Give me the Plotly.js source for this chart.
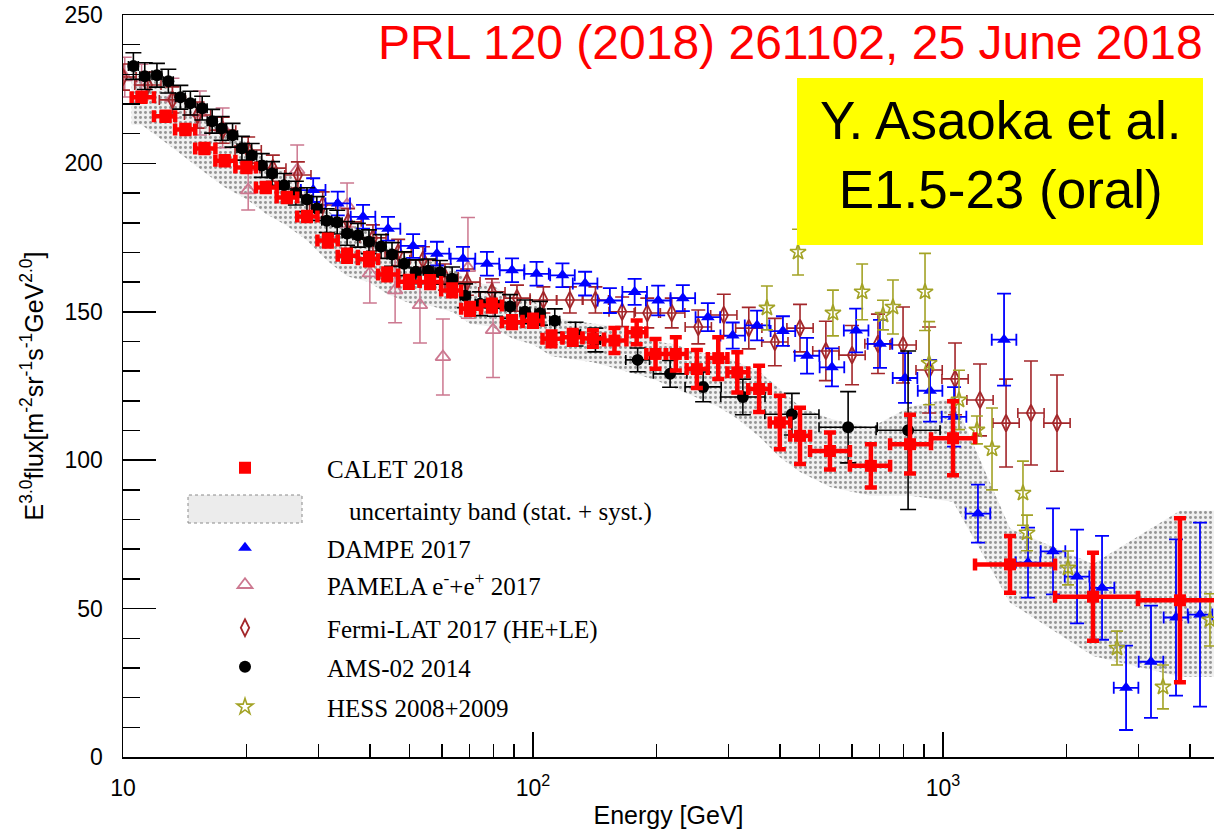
<!DOCTYPE html>
<html>
<head>
<meta charset="utf-8">
<script src="https://cdn.plot.ly/plotly-3.0.1.min.js"></script>
<style>
  html, body { margin: 0; padding: 0; background: #fff; overflow: hidden; }
  #chart { width: 1214px; height: 833px; }
</style>
</head>
<body>
<div id="chart"></div>
<script>
// ---- CALET 2018: total electron + positron spectrum, E^3 x flux ----
const calE = [11.1, 12.7, 14.2, 15.8, 17.7, 20.0, 22.3, 25.1, 28.1, 31.6, 35.2, 39.8, 44.1, 49.8, 56.1, 63.5, 70.2, 79.4, 88.9, 100,
              111, 125, 140, 158, 179, 199, 223, 251, 283, 315, 356, 400, 448, 530, 667, 831, 1058, 1457, 2322, 3784];
const calFlux = [222.3, 215.9, 211.4, 205.0, 200.9, 198.6, 191.9, 188.5, 182.1, 174.0, 168.9, 167.7, 162.6, 160.1, 160.0, 157.2, 151.0, 152.1, 146.5, 147.0,
                 140.9, 141.4, 141.0, 140.3, 143.1, 135.8, 135.8, 130.7, 134.4, 129.6, 124.0, 112.7, 108.2, 103.1, 98.1, 105.4, 107.4, 64.9, 54.0, 52.8];
const calErr = [1.5, 1.5, 1.5, 1.5, 1.5, 1.5, 1.5, 1.5, 1.5, 2, 2, 2, 2, 2, 2, 2, 2, 2, 2, 2,
                2.5, 2.5, 2.8, 4.2, 4.0, 5.0, 5.6, 6.4, 7.0, 6.8, 7.8, 9.0, 9.5, 6.2, 7.3, 9.9, 12.5, 9.6, 14.8, 27.6];
const calBinEdges = [10.5, 11.9, 13.4, 15.0, 16.8, 18.8, 21.1, 23.7, 26.6, 29.8, 33.4, 37.4, 41.9, 46.9, 52.9, 59.7, 66.8, 74.7, 84.0, 94.3,
                     105.5, 118, 132, 149, 169, 189, 211, 237, 267, 298, 335, 378, 424, 474, 593, 743, 935, 1197, 1876, 2990, 4874];
// uncertainty band (stat. + syst.) per CALET bin
const calBandLo = [213, 207, 202, 197, 192, 188, 183, 179, 174, 167, 162, 160, 156, 153, 152, 150, 146, 145, 141, 139,
                   135, 134, 133, 131, 129, 127, 124, 121, 118, 114, 108, 101, 96, 91, 88, 88, 86, 52, 34, 27];
const calBandHi = [231, 226, 221, 215, 211, 207, 201, 197, 191, 184, 180, 177, 172, 168, 167, 165, 160, 159, 155, 154,
                   148, 147, 146, 145, 144, 140, 139, 136, 136, 133, 130, 124, 118, 114, 111, 118, 121, 77, 65, 83];

// ---- DAMPE 2017 ----
const dampeE = [29.1, 33.4, 38.5, 44.3, 51.0, 58.3, 67.5, 77.2, 88.9, 102, 118, 134, 154, 177, 202, 232, 267, 307, 352, 407,
                466, 536, 614, 702, 808, 930, 1064, 1217, 1409, 1612, 1855, 2123, 2443, 2796, 3216, 3701, 4235];
const dampeFlux = [191, 186.5, 182, 178, 172.2, 169.6, 167.9, 166.2, 164, 162.8, 162.3, 159.5, 153.8, 156.7, 153.8, 154.6, 148.2, 142, 145.4, 143.5,
                   135.2, 131.3, 143.7, 139.2, 127.7, 123.4, 114.6, 82, 140.6, 65.5, 69.3, 60.8, 57, 23.3, 32.1, 47, 48];
const dampeErr = [4, 4, 4, 4, 4, 4, 4, 4, 4, 4, 4, 4, 4.2, 4.4, 5, 4.4, 4.7, 4.4, 5, 5,
                  6, 6.4, 7.4, 8.1, 8.4, 10.4, 10, 9.8, 15.5, 11.8, 14.5, 15.8, 17.5, 14.2, 18.9, 26.3, 31];
const dampeHalfBinDec = 0.03;

// ---- PAMELA e- + e+ 2017 ----
const pamE = [10.1, 11.1, 13.2, 15.4, 17.5, 20.2, 26.6, 35.2, 40.0, 46.1, 53.0, 60.3, 69.4, 79.9];
const pamFlux = [229.1, 227.4, 222, 217, 212, 191, 197.8, 186, 163, 157.3, 152.3, 134.8, 164.8, 143.9];
const pamErr = [6.7, 6, 6.7, 7.4, 6.7, 6.7, 8.4, 7.4, 10, 11, 12.8, 12.8, 17, 16];

// ---- Fermi-LAT 2017 (HE+LE) ----
const fermiE = [10.0, 11.5, 13.2, 15.2, 17.5, 20.2, 23.2, 26.7, 30.7, 35.4, 40.7, 46.9, 53.9, 61.0, 69.0, 79.4, 91.4, 106, 123, 142,
                165, 190, 218, 253, 292, 336, 389, 448, 518, 600, 694, 799, 925, 1070, 1231, 1425, 1639, 1897];
const fermiFlux = [229.1, 226.4, 221.4, 216.3, 211.2, 204.5, 198.4, 196.1, 186, 180.3, 174.9, 170, 167.5, 161.7, 160, 156.7, 154.6, 154, 154, 154,
                   150, 149.6, 149.6, 144.9, 148.9, 144.5, 139.8, 144.5, 136.8, 135.4, 139.2, 138.8, 130.4, 127.4, 120.3, 112.5, 115.9, 112.5];
const fermiErr = [4.4, 4.4, 4.4, 4.4, 4.4, 4.4, 4.4, 4.4, 4.4, 4.4, 4.4, 4.4, 4.4, 4.4, 4.4, 4.4, 4.4, 4.4, 4.4, 4.4,
                  5, 5, 5, 5.7, 7, 7, 8, 8, 10, 10, 10, 12.8, 14.5, 12.1, 12.1, 14.8, 17.5, 16.2];
const fermiHalfBinDec = 0.032;

// ---- AMS-02 2014 ----
const amsE = [10.6, 11.3, 12.1, 12.9, 13.8, 14.6, 15.6, 16.5, 17.4, 18.5, 19.5, 20.6, 21.8, 23.1, 24.7, 26.4, 28.1, 29.7, 31.4, 33.3,
              35.2, 37.4, 39.8, 42.6, 45.3, 48.5, 51.8, 55.5, 59.3, 63.5, 68.3, 74.3, 80.8, 87.9, 95.6, 104, 113, 127, 142, 180,
              216, 260, 325, 428, 587, 822];
const amsFlux = [232.8, 229.4, 229.7, 227.7, 222.3, 220.3, 218.6, 214.2, 211.8, 209.5, 205.1, 202.7, 199.3, 196.6, 192.6, 190.0, 187.8, 184.8, 180.7, 180.2,
                 176.4, 175.8, 173.6, 172.0, 169.3, 166.2, 163.5, 163.8, 163.3, 161.1, 155.4, 152.7, 152.5, 151.8, 150.0, 149.5, 147.0, 142.5, 140.5, 133.8,
                 129.1, 124.7, 121.3, 115.5, 111.1, 110.1];
const amsErr = [4.5, 4.5, 4, 4, 4, 4, 4, 4, 4, 4, 4, 4, 4, 4, 4, 4, 4, 4, 4, 4,
                4, 4, 4, 4, 4, 4, 4, 4, 4, 4, 4, 4, 4, 4, 4, 4, 4, 4, 4, 4,
                4.5, 5, 6, 7, 12, 26.7];
const amsHalfBinDec = [0.012, 0.012, 0.012, 0.012, 0.012, 0.012, 0.012, 0.012, 0.012, 0.012, 0.012, 0.012, 0.012, 0.012, 0.012, 0.012, 0.012, 0.012, 0.012, 0.012,
                       0.012, 0.012, 0.012, 0.012, 0.012, 0.012, 0.012, 0.012, 0.012, 0.012, 0.012, 0.012, 0.012, 0.012, 0.012, 0.012, 0.012, 0.012, 0.012, 0.029,
                       0.041, 0.044, 0.054, 0.066, 0.071, 0.078];

// ---- HESS 2008 + 2009 ----
const hessE = [372, 443, 539, 635, 714, 755, 904, 925, 1094, 1210, 1317, 1567, 1603, 2018, 2657, 3440, 4479];
const hessFlux = [151.3, 170.1, 149.6, 156.7, 148.9, 151.6, 156.7, 132.7, 120.3, 110.2, 103.8, 88.9, 75.5, 63.7, 36.7, 23.6, 46.2];
const hessErr = [7.4, 7.7, 7.7, 9.4, 5, 9.1, 13, 14, 10, 4.7, 13.8, 10.8, 6, 5.7, 5.7, 7.4, 8.8];

// ---- helpers: asymmetric horizontal errors on a log energy axis ----
const upFromDec = (E, d) => E.map((e, i) => e * (Math.pow(10, Array.isArray(d) ? d[i] : d) - 1));
const dnFromDec = (E, d) => E.map((e, i) => e * (1 - Math.pow(10, -(Array.isArray(d) ? d[i] : d))));

const COL = {
  calet: '#ff0000', dampe: '#0000ff', pamela: '#cc7890', fermi: '#a3262a', ams: '#000000', hess: '#a3a326'
};
const LEGEND_FONT = { family: 'Liberation Serif, Times New Roman, serif', size: 25, color: '#000' };

// uncertainty band polygon, spanning the first to the last CALET bin edge
const bandE = [calBinEdges[0], ...calE, calBinEdges[calBinEdges.length - 1]];
const bandHi = [calBandHi[0], ...calBandHi, calBandHi[calBandHi.length - 1]];
const bandLo = [calBandLo[0], ...calBandLo, calBandLo[calBandLo.length - 1]];

const band = {
  x: [...bandE, ...bandE.slice().reverse()],
  y: [...bandHi, ...bandLo.slice().reverse()],
  type: 'scatter', mode: 'lines', fill: 'toself',
  line: { width: 0, color: 'rgba(0,0,0,0)' },
  fillcolor: 'rgba(240,240,240,0.9)',
  fillpattern: { shape: '.', size: 5, solidity: 0.28, fgcolor: '#959595', bgcolor: '#f0f0f0' },
  hoverinfo: 'skip', showlegend: false
};

const pamela = {
  name: 'PAMELA e<sup>-</sup>+e<sup>+</sup> 2017', legend: 'legend4',
  x: pamE, y: pamFlux, type: 'scatter', mode: 'markers',
  marker: { symbol: 'triangle-up-open', size: 13, color: COL.pamela, line: { width: 1.8, color: COL.pamela } },
  error_y: { type: 'data', array: pamErr, color: COL.pamela, thickness: 1.5, width: 7 }
};

const fermi = {
  name: 'Fermi-LAT 2017 (HE+LE)', legend: 'legend5',
  x: fermiE, y: fermiFlux, type: 'scatter', mode: 'markers',
  marker: { symbol: 'diamond-tall-open', size: 12, color: COL.fermi, line: { width: 1.8, color: COL.fermi } },
  error_y: { type: 'data', array: fermiErr, color: COL.fermi, thickness: 1.6, width: 7 },
  error_x: { type: 'data', symmetric: false, array: upFromDec(fermiE, fermiHalfBinDec), arrayminus: dnFromDec(fermiE, fermiHalfBinDec),
             color: COL.fermi, thickness: 1.6, width: 5 }
};

const dampe = {
  name: 'DAMPE 2017', legend: 'legend3',
  x: dampeE, y: dampeFlux, type: 'scatter', mode: 'markers',
  marker: { symbol: 'triangle-up', size: 12, color: COL.dampe },
  error_y: { type: 'data', array: dampeErr, color: COL.dampe, thickness: 1.8, width: 7 },
  error_x: { type: 'data', symmetric: false, array: upFromDec(dampeE, dampeHalfBinDec), arrayminus: dnFromDec(dampeE, dampeHalfBinDec),
             color: COL.dampe, thickness: 1.8, width: 6 }
};

const hess = {
  name: 'HESS 2008+2009', legend: 'legend7',
  x: hessE, y: hessFlux, type: 'scatter', mode: 'markers',
  marker: { symbol: 'star-open', size: 12, color: COL.hess, line: { width: 1.6, color: COL.hess } },
  error_y: { type: 'data', array: hessErr, color: COL.hess, thickness: 1.6, width: 6 }
};

const ams = {
  name: 'AMS-02 2014', legend: 'legend6',
  x: amsE, y: amsFlux, type: 'scatter', mode: 'markers',
  marker: { symbol: 'circle', size: 12, color: COL.ams },
  error_y: { type: 'data', array: amsErr, color: COL.ams, thickness: 1.6, width: 8 },
  error_x: { type: 'data', symmetric: false, array: upFromDec(amsE, amsHalfBinDec), arrayminus: dnFromDec(amsE, amsHalfBinDec),
             color: COL.ams, thickness: 1.6, width: 5 }
};

const calet = {
  name: 'CALET 2018', legend: 'legend',
  x: calE, y: calFlux, type: 'scatter', mode: 'markers',
  marker: { symbol: 'square', size: 12, color: COL.calet },
  error_y: { type: 'data', array: calErr, color: COL.calet, thickness: 4.5, width: 6 },
  error_x: { type: 'data', symmetric: false,
             array: calE.map((e, i) => calBinEdges[i + 1] - e),
             arrayminus: calE.map((e, i) => e - calBinEdges[i]),
             color: COL.calet, thickness: 4.5, width: 6 }
};

// minor ticks on the energy axis: 2..9 x each decade
const minorX = [];
[10, 100, 1000].forEach(d => { for (let k = 2; k <= 9; k++) minorX.push(k * d); });

// plot area: x 123..1214 px, y 15..757 px
const px = (x) => (x - 123) / 1091;
const py = (y) => (757 - y) / 742;

function legendAt(ypix) {
  return {
    x: px(163), y: py(ypix), xanchor: 'left', yanchor: 'middle',
    bgcolor: 'rgba(0,0,0,0)', borderwidth: 0, font: LEGEND_FONT,
    itemwidth: 154, itemsizing: 'trace', itemclick: false, itemdoubleclick: false
  };
}

const layout = {
  width: 1214, height: 833,
  margin: { l: 123, r: 0, t: 15, b: 76 },
  paper_bgcolor: '#ffffff', plot_bgcolor: '#ffffff',
  font: { family: 'Liberation Sans, Arial, sans-serif', color: '#000' },
  showlegend: true,
  legend: legendAt(468),
  legend3: legendAt(548),
  legend4: legendAt(585),
  legend5: legendAt(628),
  legend6: legendAt(667),
  legend7: legendAt(707),
  xaxis: {
    type: 'log', range: [1, 3.661],
    showline: true, mirror: true, linecolor: '#000', linewidth: 1.5,
    showgrid: false, zeroline: false,
    ticks: 'inside', ticklen: 25, tickwidth: 1.5, tickcolor: '#000',
    tickmode: 'array', tickvals: [10, 100, 1000], ticktext: ['10', '10<sup>2</sup>', '10<sup>3</sup>'],
    tickfont: { size: 23, color: '#000' }, ticklabelstandoff: 10,
    minor: { ticks: 'inside', ticklen: 13, tickwidth: 1.5, tickcolor: '#000', tickmode: 'array', tickvals: minorX, showgrid: false },
    title: { text: 'Energy [GeV]', font: { size: 25, color: '#000' }, standoff: 6 }
  },
  yaxis: {
    range: [0, 250],
    showline: true, mirror: false, linecolor: '#000', linewidth: 1.5,
    showgrid: false, zeroline: false,
    ticks: 'inside', ticklen: 33, tickwidth: 1.5, tickcolor: '#000',
    tickmode: 'array', tickvals: [0, 50, 100, 150, 200, 250],
    tickfont: { size: 23, color: '#000' }, ticklabelstandoff: 14,
    minor: { ticks: 'inside', ticklen: 17, tickwidth: 1.5, tickcolor: '#000', dtick: 10, showgrid: false },
    title: { text: 'E<sup>3.0</sup>flux[m<sup>-2</sup>sr<sup>-1</sup>s<sup>-1</sup>GeV<sup>2.0</sup>]', font: { size: 25, color: '#000' }, standoff: 14 }
  },
  shapes: [
    // swatch of the uncertainty band in the legend
    { type: 'rect', xref: 'paper', yref: 'paper', x0: px(188), x1: px(302), y0: py(523), y1: py(495),
      fillcolor: '#ececec', line: { color: '#8a8a8a', width: 1, dash: 'dot' } },
    // yellow box holding the talk reference
    { type: 'rect', xref: 'paper', yref: 'paper', x0: px(797), x1: px(1203), y0: py(245), y1: py(78),
      fillcolor: '#ffff00', line: { width: 0 } }
  ],
  annotations: [
    { xref: 'paper', yref: 'paper', x: px(347), y: py(512), xanchor: 'left', yanchor: 'middle', showarrow: false,
      text: 'uncertainty band (stat. + syst.)', font: LEGEND_FONT },
    { xref: 'paper', yref: 'paper', x: px(1205), y: py(42), xanchor: 'right', yanchor: 'middle', showarrow: false,
      text: 'PRL 120 (2018) 261102, 25 June 2018', font: { family: 'Liberation Sans, Arial, sans-serif', size: 48, color: '#ff0000' } },
    { xref: 'paper', yref: 'paper', x: px(1000), y: py(155), xanchor: 'center', yanchor: 'middle', showarrow: false,
      text: 'Y. Asaoka et al.<br>E1.5-23 (oral)', align: 'center',
      font: { family: 'Liberation Sans, Arial, sans-serif', size: 53, color: '#000' } }
  ]
};

Plotly.newPlot('chart', [band, pamela, fermi, dampe, hess, ams, calet], layout, { displayModeBar: false, staticPlot: true });
</script>
</body>
</html>
